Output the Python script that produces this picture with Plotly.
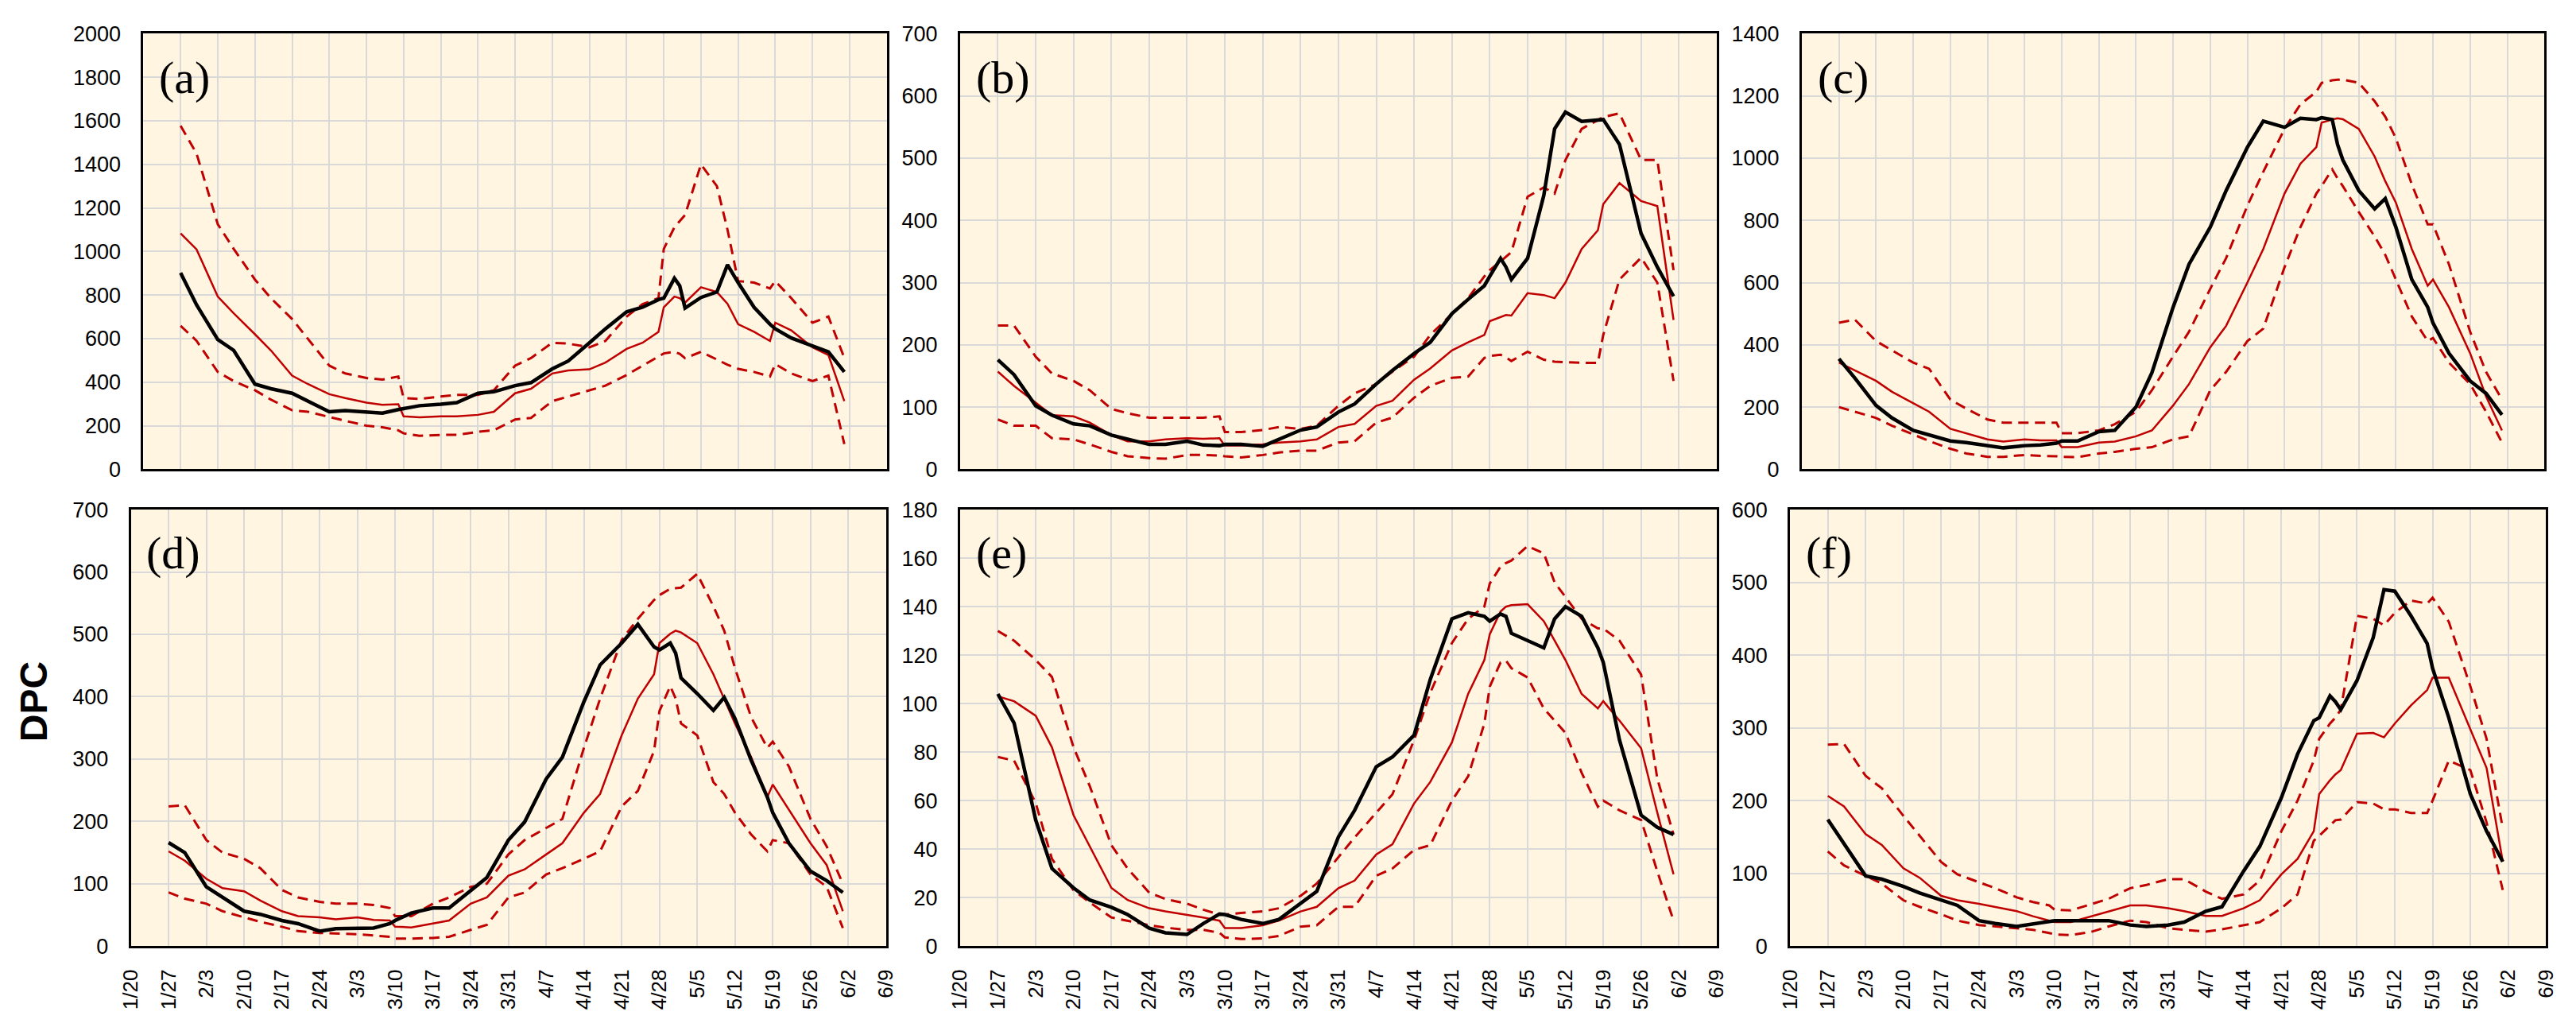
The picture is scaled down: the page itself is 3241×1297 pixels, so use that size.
import pandas as pd
import plotly.graph_objects as go

# ---------------- data (day offsets from 2021-01-27) ----------------
DAYS = [0, 3, 7, 10, 14, 17, 21, 24, 28, 31, 35, 38, 41, 42, 45, 49, 52, 56, 59, 63, 66,
        70, 73, 77, 80, 84, 87, 90, 91, 93, 94, 95, 98, 101, 103, 105, 108, 111, 112,
        115, 119, 122, 125]
START_DATE = "2021-01-27"

# panel (a)
A_OBS = [902, 755, 596, 546, 391, 370, 349, 313, 264, 270, 264, 258, 274, 278, 292, 299, 306, 349, 356, 384, 398,
         461, 497, 581, 645, 723, 744, 779, 786, 877, 843, 740, 789, 814, 939, 857, 744, 666, 645, 603, 567, 539, 447]
A_MEAN = [1083, 1010, 793, 716, 620, 546, 430, 391, 345, 327, 306, 296, 299, 243, 239, 243, 243, 250, 264, 349, 370,
          440, 454, 459, 490, 553, 581, 631, 744, 793, 786, 765, 836, 814, 760, 666, 631, 589, 673, 638, 560, 525, 313]
A_UP = [1577, 1450, 1125, 1012, 871, 786, 690, 600, 476, 440, 419, 412, 426, 327, 323, 334, 342, 342, 363, 476, 511,
        581, 577, 560, 589, 701, 758, 786, 1012, 1111, 1139, 1167, 1400, 1300, 1100, 864, 857, 830, 864, 786, 673, 701, 511]
A_LO = [659, 590, 447, 405, 363, 320, 271, 264, 240, 222, 200, 193, 179, 165, 154, 158, 158, 172, 179, 229, 236,
        313, 334, 363, 384, 433, 476, 520, 532, 539, 530, 510, 539, 504, 480, 461, 447, 426, 483, 440, 405, 430, 116]

# panel (b)
B_OBS = [176, 152, 102, 87, 73, 70, 55, 48, 40, 40, 45, 39, 38, 40, 40, 37, 48, 63, 68, 92, 105,
         137, 159, 186, 204, 250, 273, 295, 310, 339, 325, 305, 339, 440, 547, 574, 559, 562, 562, 522, 379, 325, 278]
B_MEAN = [157, 134, 107, 87, 85, 75, 55, 45, 45, 48, 50, 49, 50, 38, 38, 40, 43, 45, 48, 68, 73,
          102, 110, 144, 162, 191, 204, 216, 238, 245, 248, 247, 283, 280, 275, 300, 354, 384, 426, 460, 431, 423, 240]
B_UP = [231, 231, 181, 154, 142, 127, 97, 90, 83, 83, 83, 83, 85, 60, 60, 63, 68, 65, 70, 102, 122,
        137, 157, 181, 216, 250, 275, 310, 320, 334, 342, 349, 438, 453, 443, 497, 547, 562, 566, 572, 497, 497, 320]
B_LO = [80, 70, 70, 50, 48, 40, 28, 21, 18, 17, 23, 23, 22, 21, 19, 23, 27, 30, 30, 43, 45,
        75, 83, 115, 134, 147, 149, 179, 182, 184, 180, 174, 189, 176, 173, 172, 171, 171, 216, 305, 340, 300, 142]

# panel (c)
C_OBS = [355, 293, 205, 165, 125, 111, 91, 86, 76, 69, 76, 78, 84, 91, 91, 121, 125, 200, 310, 521, 659,
         778, 896, 1035, 1119, 1099, 1128, 1124, 1130, 1124, 1044, 994, 896, 837, 870, 778, 610, 521, 470, 373, 284, 244, 175]
C_MEAN = [343, 318, 284, 249, 212, 185, 130, 116, 96, 89, 96, 93, 93, 71, 71, 86, 89, 106, 125, 205, 274,
          392, 461, 600, 708, 886, 982, 1035, 1114, 1124, 1128, 1125, 1094, 1005, 926, 857, 708, 590, 610, 521, 373, 234, 125]
C_UP = [471, 481, 412, 382, 343, 323, 224, 195, 160, 150, 150, 150, 150, 116, 116, 125, 145, 185, 254, 363, 442,
        580, 679, 847, 956, 1094, 1173, 1213, 1242, 1250, 1252, 1252, 1242, 1183, 1133, 1064, 916, 787, 787, 659, 442, 313, 224]
C_LO = [200, 185, 165, 140, 111, 91, 66, 51, 40, 40, 46, 43, 42, 40, 39, 51, 56, 66, 71, 96, 106,
        254, 313, 412, 452, 649, 778, 886, 910, 964, 935, 910, 827, 748, 689, 610, 491, 412, 422, 343, 274, 185, 86]

# panel (d)
D_OBS = [166, 150, 95, 78, 56, 51, 41, 36, 24, 28, 29, 29, 36, 41, 53, 61, 61, 88, 110, 170, 199,
         268, 303, 392, 451, 486, 516, 480, 475, 486, 470, 430, 405, 378, 399, 365, 298, 239, 214, 165, 120, 105, 86]
D_MEAN = [152, 137, 108, 93, 88, 73, 56, 48, 46, 43, 46, 42, 41, 31, 30, 36, 41, 68, 78, 113, 123,
          147, 165, 214, 244, 338, 397, 436, 486, 501, 506, 503, 486, 436, 397, 357, 303, 239, 259, 219, 165, 130, 56]
D_UP = [224, 226, 170, 150, 140, 125, 90, 78, 71, 68, 68, 66, 61, 48, 48, 68, 78, 95, 100, 147, 170,
        189, 204, 318, 397, 491, 525, 555, 563, 573, 574, 575, 597, 545, 506, 446, 367, 318, 328, 288, 204, 160, 100]
D_LO = [86, 76, 68, 56, 46, 39, 31, 24, 21, 20, 19, 17, 15, 12, 12, 13, 15, 26, 34, 78, 86,
        115, 125, 140, 152, 224, 249, 313, 377, 417, 397, 357, 338, 263, 244, 214, 179, 152, 170, 165, 115, 95, 29]

# panel (e)
E_OBS = [104, 92, 52, 32, 24, 19, 16, 13, 7.4, 5.5, 4.8, 9.3, 13.2, 13, 11, 9.3, 11, 17.5, 22.6, 45, 56,
         74, 78, 87, 110, 135, 137.5, 136, 134, 137, 136, 129, 126, 123, 135, 140, 136, 123, 117, 85, 54, 49, 46]
E_MEAN = [103, 101, 95, 82, 54, 41, 24, 19, 15.6, 14.3, 13, 11.8, 10.5, 7.4, 7.4, 8.6, 10.5, 14.3, 16.2, 23.9, 27,
          37.8, 42, 58.8, 67.7, 84, 104, 118, 128.6, 138, 140, 140.6, 141, 134, 126, 118, 104, 98, 101, 93, 81.6, 55, 29.6]
E_UP = [130, 126, 118, 111, 82, 66, 41.6, 32, 22, 19.4, 17.5, 15, 13, 13, 13.7, 14.3, 15.6, 20.7, 25.8, 36.6, 44.8,
        55, 62.6, 85, 104.5, 125, 135, 140, 149.5, 156.5, 158, 159, 165, 162, 150, 144, 135, 131, 131, 126, 112, 69, 46]
E_LO = [78, 76.5, 59, 36, 23, 18, 11.8, 10.5, 8.6, 7.6, 6.7, 6.7, 5.5, 3.6, 2.9, 3.2, 4.2, 8, 8.6, 16.2, 16.2,
        29, 32, 39.7, 41.6, 60, 70, 91.8, 107, 117, 117.8, 114.6, 110.8, 98, 93, 88, 71.5, 57.5, 60, 56, 52, 30.8, 10.5]

# panel (f)
F_OBS = [174, 141, 96.5, 92, 82, 73, 63, 56, 35, 31, 27, 30, 34, 35, 35, 35, 35, 29, 27, 29, 33,
         48, 54, 103, 137, 204, 264, 310, 314, 344, 336, 325, 365, 424, 490, 488, 454, 416, 382, 314, 209, 158, 116]
F_MEAN = [206.5, 192, 154, 139, 107, 94, 69, 63, 58, 54, 48, 41, 35, 33, 33, 41.5, 48, 56, 56, 52, 48,
          41.5, 41.5, 52, 63, 98.6, 120, 158, 209, 228, 236, 242, 292, 293, 287, 306, 331, 352, 369, 369, 298, 245, 116]
F_UP = [277, 278, 234, 217, 179, 151.5, 115.5, 98.6, 88, 79.6, 67, 60.5, 56, 50, 49, 58, 65, 79.6, 84, 92, 92,
        75, 65, 71, 90, 158, 200, 255, 285, 306, 314, 325, 454, 450, 441, 458, 475, 471, 479, 446, 357, 285, 162]
F_LO = [130, 111, 96.5, 86, 63, 54, 43.6, 35, 29, 27, 24.5, 22.4, 18, 16, 15, 20, 27, 35, 33, 24.5, 22.4,
        20, 23, 29, 33, 52, 71, 145, 151.5, 166, 173, 174, 198, 196, 188, 188, 183, 183, 200, 255, 242, 170, 77]

PANEL_LABELS = ["(a)", "(b)", "(c)", "(d)", "(e)", "(f)"]
Y_MAX = [2000, 700, 1400, 700, 180, 600]
Y_STEP = [200, 100, 200, 100, 20, 100]
Y_TITLE = "DPC"
X_START = "2021-01-20"
X_END = "2021-06-09"

# ---------------- figure ----------------
W, H = 3241, 1297
dates = pd.Timestamp(START_DATE) + pd.to_timedelta(DAYS, unit="D")

series = [
    (A_OBS, A_MEAN, A_UP, A_LO), (B_OBS, B_MEAN, B_UP, B_LO), (C_OBS, C_MEAN, C_UP, C_LO),
    (D_OBS, D_MEAN, D_UP, D_LO), (E_OBS, E_MEAN, E_UP, E_LO), (F_OBS, F_MEAN, F_UP, F_LO),
]

# plot-area pixel boxes (left, right) and rows (top, bottom)
x_px = [(166, 1110), (1203, 2164), (2272, 3215), (150, 1109), (1203, 2164), (2257, 3217)]
rows_px = [(28, 589), (641, 1203)]

RED = "#C00000"
BG = "#FFF5E1"
GRID = "#D9D9D9"
FONT = "Liberation Sans, Arial, sans-serif"
DASH = "13px,8px"

fig = go.Figure()
layout = dict(width=W, height=H, margin=dict(l=0, r=0, t=0, b=0),
              paper_bgcolor="white", plot_bgcolor=BG, showlegend=False,
              font=dict(family=FONT, color="black"))
annotations = []

for i in range(6):
    obs, mean, up, lo = series[i]
    n = "" if i == 0 else str(i + 1)
    xa, ya = "x" + n, "y" + n
    row = 0 if i < 3 else 1
    l, r = x_px[i]
    t, b = rows_px[row]
    for vals, width, dash, color in [(lo, 3, DASH, RED), (up, 3, DASH, RED),
                                     (mean, 2.5, "solid", RED), (obs, 4.5, "solid", "black")]:
        fig.add_trace(go.Scatter(x=dates, y=vals, mode="lines", xaxis=xa, yaxis=ya,
                                 line=dict(color=color, width=width, dash=dash),
                                 hoverinfo="skip"))
    layout["xaxis" + n] = dict(
        domain=[l / W, r / W], anchor=ya, type="date",
        range=[X_START, X_END], tick0=X_START, dtick=7 * 86400000,
        tickformat="%-m/%-d", tickangle=-90, showticklabels=(row == 1),
        ticks="outside", ticklen=16, tickcolor="rgba(0,0,0,0)",
        tickfont=dict(family=FONT, size=26, color="black"),
        showgrid=True, gridcolor=GRID, gridwidth=2,
        showline=True, linecolor="black", linewidth=3, mirror=True,
        zeroline=False, fixedrange=True)
    layout["yaxis" + n] = dict(
        domain=[1 - b / H, 1 - t / H], anchor=xa,
        range=[0, Y_MAX[i]], tick0=0, dtick=Y_STEP[i],
        ticks="outside", ticklen=20, tickcolor="rgba(0,0,0,0)",
        tickfont=dict(family=FONT, size=27, color="black"),
        showgrid=True, gridcolor=GRID, gridwidth=2,
        showline=True, linecolor="black", linewidth=3, mirror=True,
        zeroline=False, fixedrange=True)
    annotations.append(dict(
        text=PANEL_LABELS[i], xref="paper", yref="paper",
        x=(l + 18) / W, y=1 - (t + 56) / H, xanchor="left", yanchor="middle",
        showarrow=False, font=dict(family="Liberation Serif, Times New Roman, serif", size=58, color="black")))

annotations.append(dict(
    text="<b>%s</b>" % Y_TITLE, xref="paper", yref="paper", x=27 / W, y=1 - 888 / H,
    xanchor="center", yanchor="middle", textangle=-90, showarrow=False,
    font=dict(family=FONT, size=48, color="black")))

layout["annotations"] = annotations
fig.update_layout(**layout)

fig.write_html("out.html", config={"displayModeBar": False},
               post_script="document.body.style.margin='0';document.body.style.overflow='hidden';")
